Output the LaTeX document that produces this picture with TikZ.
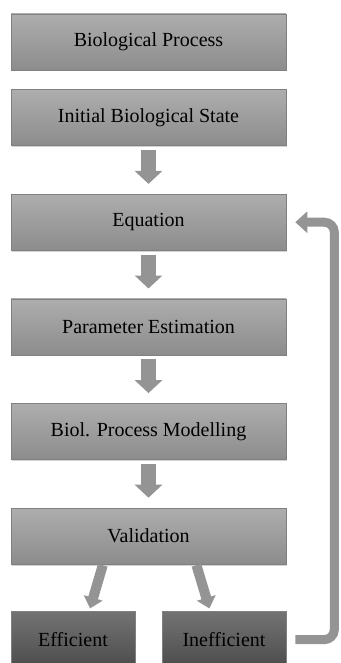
\documentclass[tikz,border=0pt]{standalone}
\usepackage{fontspec}
\setmainfont{Liberation Serif}
\usetikzlibrary{positioning}
\usetikzlibrary{calc}
\usetikzlibrary{arrows.meta}
\usetikzlibrary{shadows}
\tikzset{
  box/.style      = { rectangle, minimum height=56pt, inner sep=0pt,
                      font=\fontsize{20}{24}\selectfont },
  border/.style   = { draw=black!50, line width=0.6pt },
  shade/.style    = { drop shadow={opacity=0.35, shadow xshift=1pt, shadow yshift=-1.5pt} },
  stage/.style    = { box, border, shade, minimum width=275pt,
                      top color=black!32, bottom color=black!45 },
  outcome/.style  = { box, border, shade, minimum width=124pt,
                      top color=black!55, bottom color=black!70 },
  flow/.style     = { line width=15pt, draw=black!42,
                      -{Triangle[width=27pt,length=13pt]},
                      shorten <=4pt, shorten >=10pt },
  branch/.style   = { line width=10pt, draw=black!42,
                      -{Triangle[width=19pt,length=11pt]},
                      shorten <=1pt, shorten >=3pt },
  loopback/.style = { line width=9pt, draw=black!42, rounded corners=10pt,
                      -{Triangle[width=21pt,length=12pt]},
                      shorten <=9pt, shorten >=9pt }
}

\begin{document}
\begin{tikzpicture}[x=1pt,y=1pt]
  \useasboundingbox (0,0) rectangle (340,-663);

  \node (bio)   [stage] at (148.5,-42)          {Biological Process};
  \node (init)  [stage,below=19pt of bio]       {Initial Biological State};
  \node (eq)    [stage,below=48pt of init]      {Equation};
  \node (param) [stage,below=48pt of eq]        {Parameter Estimation};
  \node (model) [stage,below=48pt of param]     {Biol. Process Modelling};
  \node (valid) [stage,below=48pt of model]     {Validation};
  \node (eff)   [outcome,below=47pt of valid.south west,anchor=north west] {Efficient};
  \node (ineff) [outcome,below=47pt of valid.south east,anchor=north east] {Inefficient};

  \draw [flow] (init)  -- (eq);
  \draw [flow] (eq)    -- (param);
  \draw [flow] (param) -- (model);
  \draw [flow] (model) -- (valid);

  \draw [branch] ($ (valid.south west)!0.335!(valid.south east) $)
              -- ($ (eff.north west)!0.63!(eff.north east) $);
  \draw [branch] ($ (valid.south west)!0.673!(valid.south east) $)
              -- ($ (ineff.north west)!0.39!(ineff.north east) $);

  \draw [loopback] (ineff.east) -- ++(48,0) |- (eq.east);

\end{tikzpicture}
\end{document}
